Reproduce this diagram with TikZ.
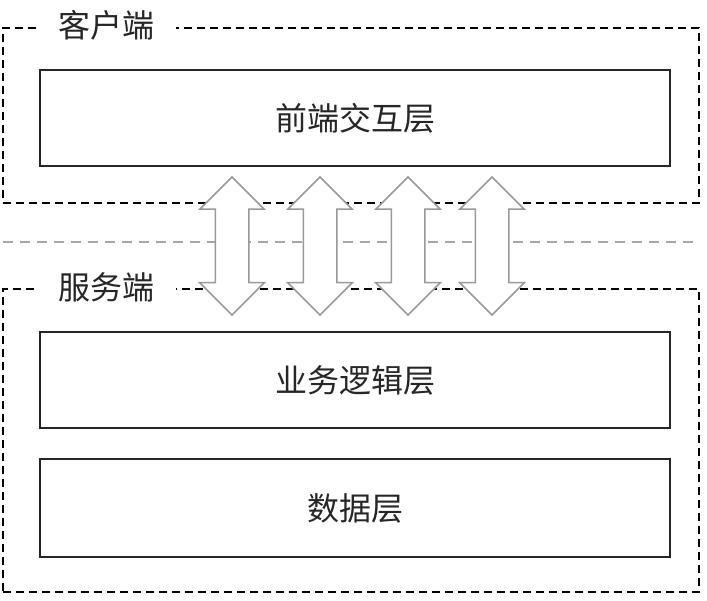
\documentclass[tikz,border=0pt]{standalone}
\usepackage{fontspec}
\newfontfamily\cjk{Noto Sans CJK SC}
\usetikzlibrary{shapes.arrows, positioning, backgrounds}

\begin{document}
\begin{tikzpicture}[
    x=1pt, y=-1pt,
    every node/.style={font=\cjk\fontsize{32}{38}\selectfont, text=black!85},
    layerbox/.style={rectangle, draw=black!85, line width=2pt, minimum width=630pt, minimum height=96pt, inner sep=0pt},
    sidebox/.style={rectangle, draw=black, line width=2.2pt, dash pattern=on 8pt off 5pt, minimum width=696pt, inner sep=0pt},
    sidetitle/.style={fill=white, inner xsep=22pt, inner ysep=2pt},
    splitline/.style={draw=gray!70, line width=1.5pt, dash pattern=on 10pt off 7pt},
    linkarrow/.style={double arrow, draw=gray!80, fill=white, line width=1.5pt, minimum height=138pt, minimum width=63pt, double arrow head extend=15.5pt, inner sep=16pt, shape border rotate=90}
]
\useasboundingbox[fill=white] (0,0) rectangle (707,601);

% ============================================================
% 1. CLIENT
% ============================================================
\node[sidebox, minimum height=175pt] (client) at (351,115.5) {};
\node[layerbox] (front) at (355,118) {前端交互层};
\node[sidetitle] (clienttitle) at (106,25) {客户端};

% ============================================================
% 2. SERVER
% ============================================================
\node[sidebox, minimum height=303pt] (server) at (351,440.5) {};
\node[layerbox] (logic) at (355,380.5) {业务逻辑层};
\node[layerbox, minimum height=98pt] (data) at (355,508) {数据层};
\node[sidetitle] (servertitle) at (106,287) {服务端};

% ============================================================
% 3. SPLIT LINE AND LINKS
% ============================================================
\coordinate (splitL) at (3,242);
\coordinate (splitR) at (699,242);
\draw[splitline] (splitL) -- (splitR);

\foreach \x/\n in {232/a, 320/b, 408/c, 492/d}
    \node[linkarrow] (link\n) at (\x,246) {};

\end{tikzpicture}
\end{document}
